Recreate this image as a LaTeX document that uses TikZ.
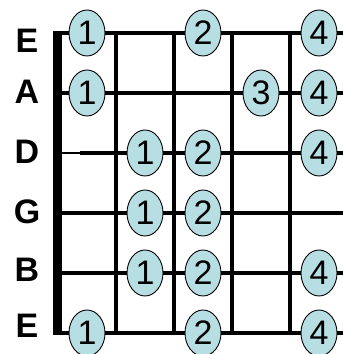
\documentclass[tikz,border=0pt]{standalone}
\usepackage{fontspec}
\setmainfont{Liberation Sans}
\usetikzlibrary{shapes.geometric}
\definecolor{dotblue}{RGB}{183,222,226}
\begin{document}
\begin{tikzpicture}[x=1pt,y=-1pt,
  gstring/.style={line width=4pt},
  fretline/.style={line width=4pt},
  finger/.style={ellipse, draw=black, line width=0.9pt, fill=dotblue,
    minimum width=36pt, minimum height=46pt, inner sep=0pt,
    font=\fontsize{34}{34}\selectfont},
  strlabel/.style={font=\bfseries\fontsize{34}{34}\selectfont, inner sep=0pt}]
\useasboundingbox (0,0) rectangle (343,354);
% strings
\draw[gstring] (57,33) -- (343,33);
\draw[gstring] (57,93) -- (343,93);
\draw[line width=2.5pt] (57,153) -- (80,153);
\draw[gstring] (80,153) -- (343,153);
\draw[gstring] (57,213) -- (343,213);
\draw[gstring] (57,273) -- (343,273);
\draw[gstring] (57,333) -- (343,333);
% frets
\foreach \x in {116,174,232,290} \draw[fretline] (\x,33) -- (\x,333);
% nut
\fill (53,31) rectangle (62,335);
% labels
\node[strlabel] (lE1) at (27,41) {E};
\node[strlabel] (lA) at (27,92) {A};
\node[strlabel] (lD) at (27,152) {D};
\node[strlabel] (lG) at (27,212) {G};
\node[strlabel] (lB) at (27,270) {B};
\node[strlabel] (lE2) at (27,326) {E};
% fingers
\node[finger] (a1) at (87,33) {1};
\node[finger] (a3) at (203,33) {2};
\node[finger] (a5) at (319,33) {4};
\node[finger] (b1) at (87,93) {1};
\node[finger] (b4) at (261,93) {3};
\node[finger] (b5) at (319,93) {4};
\node[finger] (c2) at (145,153) {1};
\node[finger] (c3) at (203,153) {2};
\node[finger] (c5) at (319,153) {4};
\node[finger] (d2) at (145,213) {1};
\node[finger] (d3) at (203,213) {2};
\node[finger] (e2) at (145,273) {1};
\node[finger] (e3) at (203,273) {2};
\node[finger] (e5) at (319,273) {4};
\node[finger] (f1) at (87,333) {1};
\node[finger] (f3) at (203,333) {2};
\node[finger] (f5) at (319,333) {4};
\end{tikzpicture}
\end{document}
